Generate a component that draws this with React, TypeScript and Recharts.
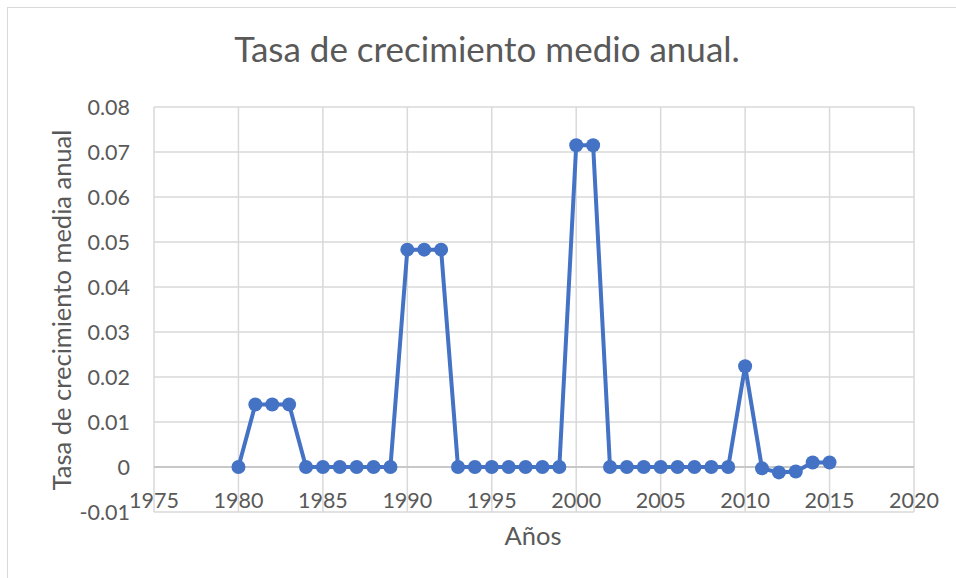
import { LineChart, Line, XAxis, YAxis, CartesianGrid, ReferenceLine } from "recharts";

const years = [
  1980, 1981, 1982, 1983, 1984, 1985, 1986, 1987, 1988, 1989, 1990, 1991,
  1992, 1993, 1994, 1995, 1996, 1997, 1998, 1999, 2000, 2001, 2002, 2003,
  2004, 2005, 2006, 2007, 2008, 2009, 2010, 2011, 2012, 2013, 2014, 2015,
];

const rates = [
  0, 0.0139, 0.0139, 0.0139, 0, 0, 0, 0, 0, 0, 0.0483, 0.0483,
  0.0483, 0, 0, 0, 0, 0, 0, 0, 0.0715, 0.0715, 0, 0,
  0, 0, 0, 0, 0, 0, 0.0224, -0.0003, -0.0012, -0.001, 0.001, 0.001,
];

const xTicks = [1975, 1980, 1985, 1990, 1995, 2000, 2005, 2010, 2015, 2020];
const yTicks = [-0.01, 0, 0.01, 0.02, 0.03, 0.04, 0.05, 0.06, 0.07, 0.08];

const data = years.map((year, i) => ({ year, rate: rates[i] }));

const font = "Lato, 'Open Sans', sans-serif";
const grey = "#595959";

const XTick = (props: any) => {
  const { x, y, payload } = props;
  return (
    <text
      x={x}
      y={y - 12}
      textAnchor="middle"
      dominantBaseline="central"
      fill={grey}
      fontSize={21.5}
      fontFamily={font}
    >
      {payload.value}
    </text>
  );
};

const YTick = (props: any) => {
  const { x, y, payload } = props;
  return (
    <text
      x={x}
      y={y}
      textAnchor="end"
      dominantBaseline="central"
      fill={grey}
      fontSize={21.5}
      fontFamily={font}
    >
      {payload.value}
    </text>
  );
};

export default function App() {
  return (
    <div
      style={{
        position: "absolute",
        left: 0,
        top: 0,
        width: 956,
        height: 578,
        background: "#fff",
        overflow: "hidden",
        fontFamily: font,
      }}
    >
      <div
        style={{
          position: "absolute",
          left: 7,
          top: 7,
          width: 1000,
          height: 1000,
          border: "1px solid #D9D9D9",
        }}
      />
      <div
        style={{
          position: "absolute",
          left: 0,
          width: 974,
          top: 27,
          textAlign: "center",
          fontSize: 35,
          color: grey,
          lineHeight: "42px",
        }}
      >
        Tasa de crecimiento medio anual.
      </div>
      <div
        style={{
          position: "absolute",
          left: 61,
          top: 310,
          transform: "translate(-50%, -50%) rotate(-90deg)",
          whiteSpace: "nowrap",
          fontSize: 25.5,
          color: grey,
        }}
      >
        Tasa de crecimiento media anual
      </div>
      <div
        style={{
          position: "absolute",
          left: 533,
          top: 535,
          transform: "translate(-50%, -50%)",
          whiteSpace: "nowrap",
          fontSize: 25.5,
          color: grey,
        }}
      >
        Años
      </div>
      <div style={{ position: "absolute", left: 0, top: 0 }}>
        <LineChart
          width={956}
          height={578}
          data={data}
          margin={{ top: 107, right: 42, bottom: 0, left: 0 }}
        >
          <CartesianGrid stroke="#D9D9D9" strokeWidth={1.5} />
          <XAxis
            dataKey="year"
            type="number"
            domain={[1975, 2020]}
            ticks={xTicks}
            height={66}
            axisLine={false}
            tickLine={false}
            tickSize={0}
            tickMargin={0}
            tick={<XTick />}
            interval={0}
          />
          <YAxis
            type="number"
            domain={[-0.01, 0.08]}
            ticks={yTicks}
            width={154}
            axisLine={false}
            tickLine={false}
            tickSize={0}
            tickMargin={24}
            tick={<YTick />}
            interval={0}
          />
          <ReferenceLine y={0} stroke="#BFBFBF" strokeWidth={1.5} />
          <Line
            type="linear"
            dataKey="rate"
            stroke="#4472C4"
            strokeWidth={4}
            dot={{ r: 7, fill: "#4472C4", stroke: "#4472C4", strokeWidth: 0 }}
            activeDot={false}
            isAnimationActive={false}
          />
        </LineChart>
      </div>
    </div>
  );
}
